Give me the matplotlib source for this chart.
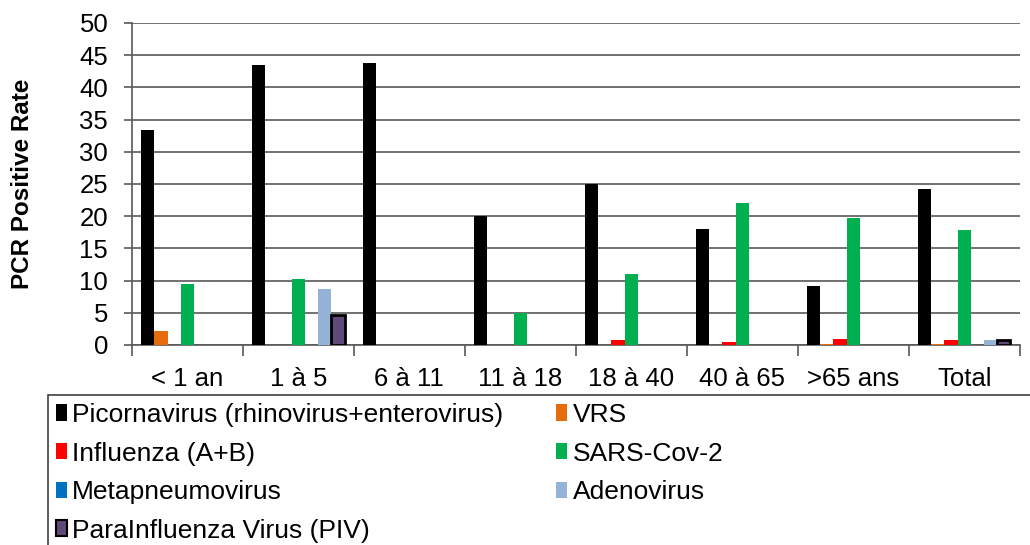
import numpy as np
import matplotlib.pyplot as plt
from matplotlib.patches import Rectangle, Patch

plt.rcParams['font.family'] = ['Liberation Sans', 'DejaVu Sans']

# Data
groups = ["< 1 an", "1 à 5", "6 à 11", "11 à 18", "18 à 40", "40 à 65", ">65 ans", "Total"]
series = ["Picornavirus (rhinovirus+enterovirus)", "VRS", "Influenza (A+B)", "SARS-Cov-2",
          "Metapneumovirus", "Adenovirus", "ParaInfluenza Virus (PIV)"]
picorna = [33.4, 43.5, 43.7, 20.0, 25.0, 18.0, 9.2, 24.2]
vrs = [2.1, 0, 0, 0, 0, 0, 0.2, 0.2]
influenza = [0, 0, 0, 0, 0.7, 0.5, 0.9, 0.7]
sars = [9.5, 10.3, 0, 5.0, 11.0, 22.1, 19.7, 17.9]
metapneumo = [0, 0, 0, 0, 0, 0, 0, 0]
adeno = [0, 8.7, 0, 0, 0, 0, 0, 0.8]
piv = [0, 4.6, 0, 0, 0, 0, 0, 0.7]

values = [picorna, vrs, influenza, sars, metapneumo, adeno, piv]
colors = ["#000000", "#E46C0A", "#FF0000", "#00B050", "#0070C0", "#95B3D7", "#604A7B"]
outlined = [False, False, False, False, False, False, True]

fig = plt.figure(figsize=(10.3, 5.45), dpi=100)
ax = fig.add_axes([0.128, 0.367, 0.862, 0.591])

x = np.arange(len(groups))
w = 0.119
handles = []
for i, (vals, c, ol) in enumerate(zip(values, colors, outlined)):
    off = (i - 3) * w
    if ol:
        # outline only the bars that exist, so zero values leave no stray marks
        ec = ["black" if v > 0 else "none" for v in vals]
        ax.bar(x + off, vals, w, color=c, edgecolor=ec, linewidth=2, zorder=3)
        handles.append(Patch(facecolor=c, edgecolor="black", linewidth=1.5))
    else:
        ax.bar(x + off, vals, w, color=c, linewidth=0, zorder=3)
        handles.append(Patch(facecolor=c, linewidth=0))

ax.set_xlim(-0.5, len(groups) - 0.5)
ax.set_ylim(0, 50)
ax.set_yticks(np.arange(0, 51, 5))
ax.yaxis.grid(True, color="#595959", linewidth=1.2, zorder=0)
ax.set_axisbelow(True)
for s in ["top", "right"]:
    ax.spines[s].set_visible(False)
ax.spines["left"].set_color("#595959")
ax.spines["bottom"].set_color("#595959")
ax.spines["left"].set_linewidth(1.2)
ax.spines["bottom"].set_linewidth(1.2)

ax.set_xticks(x)
ax.set_xticklabels(groups, fontsize=18.5)
ax.tick_params(axis="x", length=0, pad=16)
ax.set_xticks(np.arange(-0.5, len(groups) + 0.5, 1), minor=True)
ax.tick_params(axis="x", which="minor", length=8, color="#595959", width=1.2)
ax.tick_params(axis="y", labelsize=18.5, length=6, color="#595959", width=1.2, pad=11)
ax.set_ylabel("PCR Positive Rate", fontsize=17.5, fontweight="bold", labelpad=33)

# legend box (extends past the figure edge as in the original)
fig.patches.append(Rectangle((48 / 1030, -0.05), 1.0, 1 - 395 / 545 + 0.05,
                             transform=fig.transFigure, facecolor="white",
                             edgecolor="#404040", linewidth=1.2, zorder=1))

order = [0, 2, 4, 6, 1, 3, 5]
leg = fig.legend([handles[k] for k in order], [series[k] for k in order],
                 loc="upper left", bbox_to_anchor=(56 / 1030, 1 - 403 / 545),
                 ncol=2, fontsize=19, frameon=False,
                 handlelength=0.42, handleheight=0.58, handletextpad=0.2,
                 labelspacing=0.55, borderaxespad=0, borderpad=0, columnspacing=2.0)
leg.set_zorder(2)

fig.savefig("out.png", dpi=100)
